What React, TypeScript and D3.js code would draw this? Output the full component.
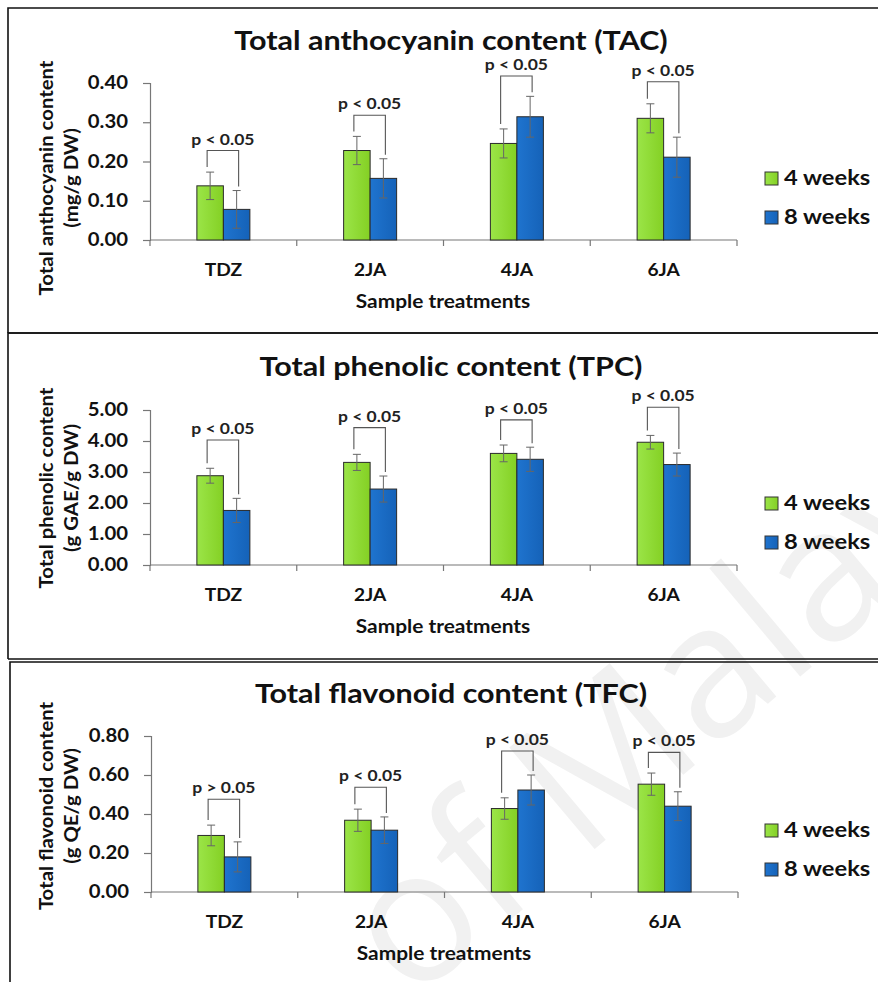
import React, { useEffect, useRef } from "react";
import * as d3 from "d3";

// Treatments and harvest times
const categories = ["TDZ", "2JA", "4JA", "6JA"];
const seriesNames = ["4 weeks", "8 weeks"];

// Total anthocyanin content (mg/g DW)
const tacWeek4 = [0.138, 0.228, 0.246, 0.31];
const tacWeek8 = [0.078, 0.157, 0.314, 0.211];
const tacErr4 = [0.035, 0.036, 0.037, 0.037];
const tacErr8 = [0.048, 0.05, 0.052, 0.051];
const tacBracket = [0.228, 0.318, 0.418, 0.403];
const tacP = ["p < 0.05", "p < 0.05", "p < 0.05", "p < 0.05"];
const tacTicks = [0, 0.1, 0.2, 0.3, 0.4];

// Total phenolic content (g GAE/g DW)
const tpcWeek4 = [2.88, 3.31, 3.6, 3.96];
const tpcWeek8 = [1.76, 2.45, 3.41, 3.24];
const tpcErr4 = [0.24, 0.26, 0.27, 0.22];
const tpcErr8 = [0.39, 0.42, 0.39, 0.37];
const tpcBracket = [4.03, 4.43, 4.68, 5.09];
const tpcP = ["p < 0.05", "p < 0.05", "p < 0.05", "p < 0.05"];
const tpcTicks = [0, 1, 2, 3, 4, 5];

// Total flavonoid content (g QE/g DW)
const tfcWeek4 = [0.29, 0.368, 0.428, 0.553];
const tfcWeek8 = [0.18, 0.317, 0.523, 0.44];
const tfcErr4 = [0.053, 0.057, 0.055, 0.057];
const tfcErr8 = [0.077, 0.068, 0.077, 0.074];
const tfcBracket = [0.476, 0.537, 0.723, 0.716];
const tfcP = ["p > 0.05", "p < 0.05", "p < 0.05", "p < 0.05"];
const tfcTicks = [0, 0.2, 0.4, 0.6, 0.8];

const panels = [
  {
    title: "Total anthocyanin content (TAC)",
    yTitle: ["Total anthocyanin content", "(mg/g DW)"],
    w4: tacWeek4, w8: tacWeek8, e4: tacErr4, e8: tacErr8,
    bracket: tacBracket, pText: tacP, ticks: tacTicks,
  },
  {
    title: "Total phenolic content (TPC)",
    yTitle: ["Total phenolic content", "(g GAE/g DW)"],
    w4: tpcWeek4, w8: tpcWeek8, e4: tpcErr4, e8: tpcErr8,
    bracket: tpcBracket, pText: tpcP, ticks: tpcTicks,
  },
  {
    title: "Total flavonoid content (TFC)",
    yTitle: ["Total flavonoid content", "(g QE/g DW)"],
    w4: tfcWeek4, w8: tfcWeek8, e4: tfcErr4, e8: tfcErr8,
    bracket: tfcBracket, pText: tfcP, ticks: tfcTicks,
  },
];

// Page geometry for each stacked panel
const layout = [
  { fx: 8, fy: 8, fb: 333, top: 83, bottom: 240, titleY: 50, yTitleMid: 178, dx: 0 },
  { fx: 8, fy: 333, fb: 659, top: 410, bottom: 565, titleY: 376, yTitleMid: 488, dx: 0 },
  { fx: 10, fy: 662, fb: 1000, top: 736, bottom: 892, titleY: 703, yTitleMid: 806, dx: 1 },
];

const FONT = "Lato, 'Open Sans', sans-serif";
const SX = 1.13; // horizontal widening of all lettering

type Sel = d3.Selection<any, unknown, null, undefined>;

function label(
  parent: Sel,
  x: number,
  y: number,
  str: string,
  size: number,
  opts: { anchor?: string; rotate?: number; fill?: string } = {}
) {
  const g = parent
    .append("g")
    .attr("transform", `translate(${x},${y}) rotate(${opts.rotate ?? 0}) scale(${SX},1)`);
  g.append("text")
    .attr("text-anchor", opts.anchor ?? "start")
    .attr("font-family", FONT)
    .attr("font-weight", 700)
    .attr("font-size", size)
    .attr("fill", opts.fill ?? "#111")
    .text(str);
  return g;
}

export default function App() {
  const ref = useRef<SVGSVGElement>(null);

  useEffect(() => {
    document.body.style.margin = "0";
    const svg = d3.select(ref.current) as unknown as Sel;
    svg.selectAll("*").remove();

    const defs = svg.append("defs");
    const g1 = defs.append("linearGradient").attr("id", "gGreen").attr("x1", 0).attr("x2", 1);
    g1.append("stop").attr("offset", 0).attr("stop-color", "#9be548");
    g1.append("stop").attr("offset", 1).attr("stop-color", "#84d024");
    const g2 = defs.append("linearGradient").attr("id", "gBlue").attr("x1", 0).attr("x2", 1);
    g2.append("stop").attr("offset", 0).attr("stop-color", "#1f74cf");
    g2.append("stop").attr("offset", 1).attr("stop-color", "#1562b8");
    const fills = ["url(#gGreen)", "url(#gBlue)"];

    svg.append("rect").attr("width", 878).attr("height", 982).attr("fill", "#fff");

    // faint diagonal watermark
    svg.append("text")
      .attr("transform", "translate(410,1004) rotate(-40)")
      .attr("font-family", "'Open Sans', sans-serif")
      .attr("font-size", 186)
      .attr("fill", "#f1f1f1")
      .text("of Malaya");

    panels.forEach((p, i) => {
      const L = layout[i];
      const g = svg.append("g");

      // panel frame
      g.append("path")
        .attr("d", `M${L.fx},${L.fb} V${L.fy} H880 M${L.fx},${L.fb} H880`)
        .attr("fill", "none").attr("stroke", "#111").attr("stroke-width", 1.6);

      const x0 = 150 + L.dx;
      const x1 = 737 + L.dx;
      const x = d3.scaleBand<string>().domain(categories).range([x0, x1]);
      const y = d3.scaleLinear().domain([0, p.ticks[p.ticks.length - 1]]).range([L.bottom, L.top]);
      const inner = d3.scaleBand<string>().domain(seriesNames).range([0, 53]);
      const barOff = (x.bandwidth() - 53) / 2;

      // title
      label(g, 451, L.titleY, p.title, 27, { anchor: "middle" });

      // y axis
      const yAxis = d3.axisLeft(y).tickValues(p.ticks).tickFormat(() => "").tickSize(7);
      const ya = g.append("g").attr("transform", `translate(${x0},0)`).call(yAxis as any);
      ya.select(".domain").attr("stroke", "#777").attr("stroke-width", 1.2);
      ya.selectAll(".tick line").attr("stroke", "#777").attr("stroke-width", 1.2);
      ya.selectAll(".tick text").remove();
      const fmt = d3.format(".2f");
      p.ticks.forEach((t) => {
        label(g, x0 - 22, y(t) + 6, fmt(t), 18, { anchor: "end" });
      });

      // x axis with boundary ticks
      g.append("line").attr("x1", x0).attr("x2", x1).attr("y1", L.bottom).attr("y2", L.bottom)
        .attr("stroke", "#777").attr("stroke-width", 1.2);
      const bounds = [...categories.map((c) => x(c) as number), x1];
      g.selectAll(".xt").data(bounds).join("line")
        .attr("x1", (d) => d).attr("x2", (d) => d)
        .attr("y1", L.bottom).attr("y2", L.bottom + 6)
        .attr("stroke", "#777").attr("stroke-width", 1.2);
      categories.forEach((c) => {
        label(g, (x(c) as number) + x.bandwidth() / 2, L.bottom + 36, c, 17, { anchor: "middle" });
      });

      label(g, 443 + L.dx, L.bottom + 68, "Sample treatments", 18.5, { anchor: "middle" });

      // y title, two rotated lines
      p.yTitle.forEach((t, k) => {
        label(g, k === 0 ? 53 : 78, L.yTitleMid, t, 18, { anchor: "middle", rotate: -90 });
      });

      // bars and error bars
      categories.forEach((c, j) => {
        const vals = [
          { s: seriesNames[0], v: p.w4[j], e: p.e4[j], k: 0 },
          { s: seriesNames[1], v: p.w8[j], e: p.e8[j], k: 1 },
        ];
        const gx = (x(c) as number) + barOff;
        const bw = inner.bandwidth();
        vals.forEach((d) => {
          const bx = gx + (inner(d.s) as number);
          g.append("rect")
            .attr("x", bx).attr("y", y(d.v))
            .attr("width", bw).attr("height", L.bottom - y(d.v))
            .attr("fill", fills[d.k]).attr("stroke", "#2a2a2a").attr("stroke-width", 1);
          const cx = bx + bw / 2;
          const eg = g.append("g").attr("stroke", "#666").attr("stroke-width", 1);
          eg.append("line").attr("x1", cx).attr("x2", cx).attr("y1", y(d.v - d.e)).attr("y2", y(d.v + d.e));
          eg.append("line").attr("x1", cx - 4).attr("x2", cx + 4).attr("y1", y(d.v + d.e)).attr("y2", y(d.v + d.e));
          eg.append("line").attr("x1", cx - 4).attr("x2", cx + 4).attr("y1", y(d.v - d.e)).attr("y2", y(d.v - d.e));
        });

        // significance bracket
        const lx = gx + (inner(seriesNames[0]) as number) + bw / 2 - 3;
        const rx = gx + (inner(seriesNames[1]) as number) + bw / 2 + 2;
        const by = y(p.bracket[j]);
        const ly = y(vals[0].v + vals[0].e) - 5;
        const ry = y(vals[1].v + vals[1].e) - 4;
        g.append("path")
          .attr("d", `M${lx},${ly} V${by} H${rx} V${ry}`)
          .attr("fill", "none").attr("stroke", "#555").attr("stroke-width", 1.1);
        label(g, (lx + rx) / 2, by - 6, p.pText[j], 15.5, { anchor: "middle", fill: "#222" });
      });

      // legend
      seriesNames.forEach((s, k) => {
        const ly = L.bottom - 55 + k * 39;
        g.append("rect")
          .attr("x", 765).attr("y", ly - 13).attr("width", 13).attr("height", 13)
          .attr("fill", fills[k]).attr("stroke", "#333").attr("stroke-width", 1);
        label(g, 784, ly, s, 21);
      });
    });
  }, []);

  return (
    <svg
      ref={ref}
      width={878}
      height={982}
      style={{ position: "absolute", left: 0, top: 0, display: "block" }}
    />
  );
}
